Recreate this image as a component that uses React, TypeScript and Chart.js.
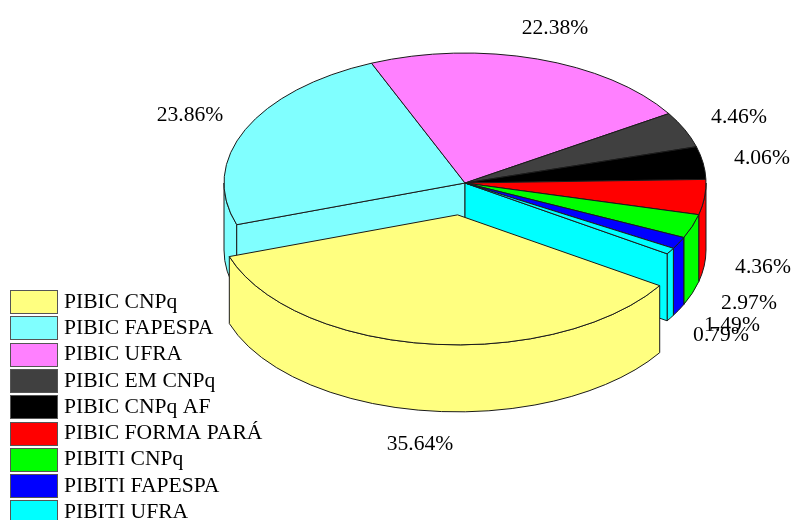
import React, { useEffect, useRef } from "react";
import { Chart, registerables } from "chart.js";

Chart.register(...registerables);

const categories = [
  "PIBIC CNPq",
  "PIBIC FAPESPA",
  "PIBIC UFRA",
  "PIBIC EM CNPq",
  "PIBIC CNPq AF",
  "PIBIC FORMA PARÁ",
  "PIBITI CNPq",
  "PIBITI FAPESPA",
  "PIBITI UFRA",
];
const percentages = [35.64, 23.86, 22.38, 4.46, 4.06, 4.36, 2.97, 1.49, 0.79];

const sliceColors = ["#FFFF80", "#80FFFF", "#FF80FF", "#404040", "#000000", "#FF0000", "#00FF00", "#0000FF", "#00FFFF"];
const sliceOffsets = [196, 0, 0, 0, 0, 0, 0, 0, 0];
const labelCentres = [
  [420, 444], [190, 115], [555, 28], [739, 117], [762, 158],
  [763, 267], [749, 303], [732, 325], [721, 335],
];

const SQUASH = 130 / 241;
const DEPTH = 67;
const OUTLINE = "#1a1a1a";
const FONT = "21.6px 'Liberation Serif'";

function shiftOf(arc: any) {
  const off = (arc.options.offset || 0) / 4;
  const half = (arc.startAngle + arc.endAngle) / 2;
  const fix = 1 - Math.sin(Math.min(Math.PI, arc.circumference || 0));
  const d = off * (1 + fix);
  return { dx: Math.cos(half) * d, dy: Math.sin(half) * d * SQUASH };
}

function outerWall(ctx: CanvasRenderingContext2D, arc: any) {
  const { dx, dy } = shiftOf(arc);
  const rx = arc.outerRadius;
  const ry = rx * SQUASH;
  const x = arc.x + dx;
  const y = arc.y + dy;
  for (const base of [0, 2 * Math.PI]) {
    const a0 = Math.max(arc.startAngle, base);
    const a1 = Math.min(arc.endAngle, base + Math.PI);
    if (a1 <= a0) continue;
    ctx.beginPath();
    ctx.ellipse(x, y, rx, ry, 0, a0, a1);
    ctx.ellipse(x, y + DEPTH, rx, ry, 0, a1, a0, true);
    ctx.closePath();
    ctx.fillStyle = arc.options.backgroundColor;
    ctx.fill();
    ctx.stroke();
  }
}

function cutWall(ctx: CanvasRenderingContext2D, arc: any, angle: number) {
  const rx = arc.outerRadius;
  const ry = rx * SQUASH;
  const px = arc.x + Math.cos(angle) * rx;
  const py = arc.y + Math.sin(angle) * ry;
  ctx.beginPath();
  ctx.moveTo(arc.x, arc.y);
  ctx.lineTo(px, py);
  ctx.lineTo(px, py + DEPTH);
  ctx.lineTo(arc.x, arc.y + DEPTH);
  ctx.closePath();
  ctx.fillStyle = arc.options.backgroundColor;
  ctx.fill();
  ctx.stroke();
}

function topFace(ctx: CanvasRenderingContext2D, arc: any) {
  const { dx, dy } = shiftOf(arc);
  const x = arc.x + dx;
  const y = arc.y + dy;
  ctx.beginPath();
  ctx.moveTo(x, y);
  ctx.ellipse(x, y, arc.outerRadius, arc.outerRadius * SQUASH, 0, arc.startAngle, arc.endAngle);
  ctx.closePath();
  ctx.fillStyle = arc.options.backgroundColor;
  ctx.fill();
  ctx.stroke();
}

const pie3d = {
  id: "pie3d",
  beforeDatasetsDraw(chart: any) {
    const ctx: CanvasRenderingContext2D = chart.ctx;
    const arcs: any[] = chart.getDatasetMeta(0).data;
    const n = arcs.length;
    const isOut = (a: any) => (a.options.offset || 0) > 0;
    ctx.save();
    ctx.lineWidth = 1;
    ctx.strokeStyle = OUTLINE;
    ctx.lineJoin = "round";
    const stay = arcs.filter((a) => !isOut(a));
    const moved = arcs.filter(isOut);
    stay.forEach((a) => outerWall(ctx, a));
    arcs.forEach((a, i) => {
      if (isOut(a)) return;
      if (isOut(arcs[(i + n - 1) % n])) cutWall(ctx, a, a.startAngle);
      if (isOut(arcs[(i + 1) % n])) cutWall(ctx, a, a.endAngle);
    });
    stay.forEach((a) => topFace(ctx, a));
    moved.forEach((a) => {
      outerWall(ctx, a);
      topFace(ctx, a);
    });
    ctx.restore();
    return false;
  },
  afterDraw(chart: any) {
    const ctx: CanvasRenderingContext2D = chart.ctx;
    ctx.save();
    ctx.font = FONT;
    ctx.fillStyle = "#000";
    ctx.textAlign = "center";
    ctx.textBaseline = "middle";
    percentages.forEach((v, i) => {
      ctx.fillText(v.toFixed(2) + "%", labelCentres[i][0], labelCentres[i][1]);
    });
    ctx.textAlign = "left";
    categories.forEach((name, i) => {
      const top = 290 + i * 26.3;
      ctx.fillStyle = sliceColors[i];
      ctx.strokeStyle = "#555";
      ctx.lineWidth = 1;
      ctx.fillRect(10.5, Math.round(top) + 0.5, 47, 23);
      ctx.strokeRect(10.5, Math.round(top) + 0.5, 47, 23);
      ctx.fillStyle = "#000";
      ctx.fillText(name, 64, top + 12);
    });
    ctx.restore();
  },
};

export default function App() {
  const ref = useRef<HTMLCanvasElement>(null);
  useEffect(() => {
    const chart = new Chart(ref.current!, {
      type: "pie",
      data: {
        labels: categories,
        datasets: [
          {
            data: percentages,
            backgroundColor: sliceColors,
            offset: sliceOffsets,
            borderWidth: 0,
          },
        ],
      },
      options: {
        animation: false,
        responsive: false,
        rotation: 123,
        radius: 241,
        layout: { padding: { left: 138, bottom: 154 } },
        plugins: { legend: { display: false }, tooltip: { enabled: false } },
      },
      plugins: [pie3d],
    } as any);
    return () => chart.destroy();
  }, []);
  return (
    <canvas
      ref={ref}
      width={792}
      height={520}
      style={{ position: "fixed", left: 0, top: 0, display: "block" }}
    />
  );
}
